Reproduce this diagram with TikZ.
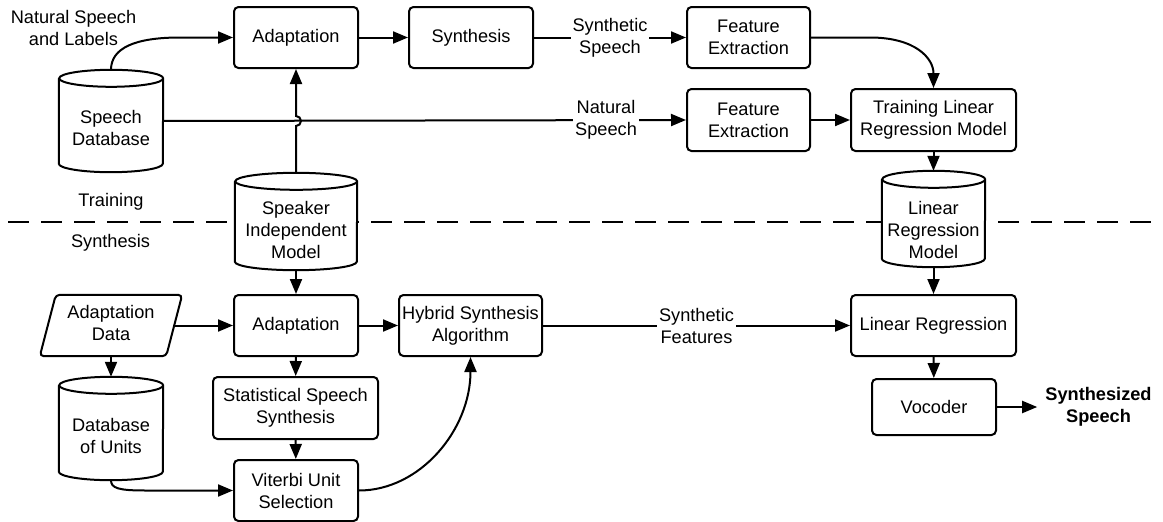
\documentclass[tikz,border=0pt]{standalone}
\usepackage{fontspec}
\setmainfont{Liberation Sans}
\usetikzlibrary{arrows.meta,calc}
\newcommand\drawcyl[2]{%
  \draw[cyl] ([yshift=-8.5pt]#1.north west) -- ([yshift=8.5pt]#1.south west)
    arc[start angle=180,end angle=360,x radius=#2pt,y radius=8.5pt]
    -- ([yshift=-8.5pt]#1.north east)
    arc[start angle=0,end angle=360,x radius=#2pt,y radius=8.5pt];}
\begin{document}
\begin{tikzpicture}[x=1pt,y=-1pt,
  every node/.style={font=\fontsize{18.2}{22}\selectfont, align=center, inner sep=0pt},
  box/.style={draw, line width=2pt, rounded corners=4.5pt, fill=white},
  cyl/.style={draw, line width=2pt, fill=white},
  conn/.style={line width=2pt, -{Triangle[length=15pt,width=12pt]}},
  lbl/.style={fill=white, inner sep=2pt},
  sep/.style={line width=2pt, dash pattern=on 21pt off 12pt},
]
\useasboundingbox (0,0) rectangle (1163,522);
\draw[sep] (8,222) -- (1163,222);

% boxes
\node[box, minimum width=124, minimum height=61] (ad1) at (296,37.5) {Adaptation};
\node[box, minimum width=124, minimum height=61] (syn) at (471,37.5) {Synthesis};
\node[box, minimum width=123, minimum height=61] (fe1) at (748.5,37.5) {Feature\\Extraction};
\node[box, minimum width=123, minimum height=62] (fe2) at (748.5,120) {Feature\\Extraction};
\node[box, minimum width=165, minimum height=62] (tlr) at (933.5,120) {Training Linear\\Regression Model};
\node[box, minimum width=124, minimum height=61] (ad2) at (296,325.5) {Adaptation};
\node[box, minimum width=143, minimum height=61] (hsa) at (470.5,325.5) {Hybrid Synthesis\\Algorithm};
\node[box, minimum width=165, minimum height=61] (lr) at (933.5,325.5) {Linear Regression};
\node[box, minimum width=124, minimum height=56] (voc) at (934,407) {Vocoder};
\node[box, minimum width=165, minimum height=62] (sss) at (295.5,408) {Statistical Speech\\Synthesis};
\node[box, minimum width=124, minimum height=61] (vus) at (296,490.5) {Viterbi Unit\\Selection};

% cylinders
\node[minimum width=104, minimum height=102] (sdb) at (111,121) {};
\node[minimum width=122, minimum height=97] (sim) at (296,221.5) {};
\node[minimum width=103, minimum height=96] (lrm) at (933.5,219) {};
\node[minimum width=104, minimum height=103] (dbu) at (111,428.5) {};
\drawcyl{sdb}{52}
\drawcyl{sim}{61}
\drawcyl{lrm}{51.5}
\drawcyl{dbu}{52}
\node (sdbt) at (111,128) {Speech\\Database};
\node (simt) at (296,230) {Speaker\\Independent\\Model};
\node (lrmt) at (933.5,230) {Linear\\Regression\\Model};
\node (dbut) at (111,435.5) {Database\\of Units};

% parallelogram
\node[minimum width=142, minimum height=61] (add) at (111,325.5) {};
\draw[line width=2pt, rounded corners=4pt] ($(add.north west)+(16,0)$) -- (add.north east)
  -- ($(add.south east)+(-16,0)$) -- (add.south west) -- cycle;
\node (addt) at (111,322.5) {Adaptation\\Data};

% free labels
\node (nsl) at (73.5,27.5) {Natural Speech\\and Labels};
\node (trn) at (111,202) {Training};
\node (sys) at (110.5,243) {Synthesis};
\node[font=\fontsize{18.2}{22}\selectfont\bfseries] (ss) at (1098.5,407) {Synthesized\\Speech};

% connectors top
\draw[conn] (sdb.north) .. controls (111,48) and (135,37.5) .. (180,37.5) -- (ad1.west);
\draw[conn] (ad1) -- (syn);
\draw[conn] (syn) -- node[lbl] {Synthetic\\Speech} (fe1);
\draw[conn] (sdb.east) -- node[lbl, pos=0.847] {Natural\\Speech} (fe2.west);
\coordinate (jmp) at (sim.north |- sdb.east);
\draw[conn] (sim.north) -- ([yshift=-5pt]jmp) arc[start angle=-90,end angle=90,radius=5pt] -- (ad1.south);
\draw[conn] (fe1.east) -- (870,37.5) .. controls (915,37.5) and (933.5,58) .. (tlr.north);
\draw[conn] (fe2) -- (tlr);
\draw[conn] (tlr) -- (lrm.north);

% connectors bottom
\draw[conn] (lrm.south) -- (lr);
\draw[conn] (sim.south) -- (ad2);
\draw[conn] ($(add.east)+(-8,0)$) -- (ad2.west);
\draw[conn] (add.south) -- (dbu.north);
\draw[conn] (ad2) -- (hsa);
\draw[conn] (hsa) -- node[lbl] {Synthetic\\Features} (lr);
\draw[conn] (ad2) -- (sss);
\draw[conn] (sss) -- (vus);
\draw[conn] (dbu.south) .. controls (111,488) and (118,490.5) .. (145,490.5) -- (vus.west);
\draw[conn] (vus.east) .. controls (420,490.5) and (470.5,430) .. (hsa.south);
\draw[conn] (lr) -- (voc);
\draw[conn] (voc.east) -- ([xshift=-8pt]ss.west);
\end{tikzpicture}
\end{document}
